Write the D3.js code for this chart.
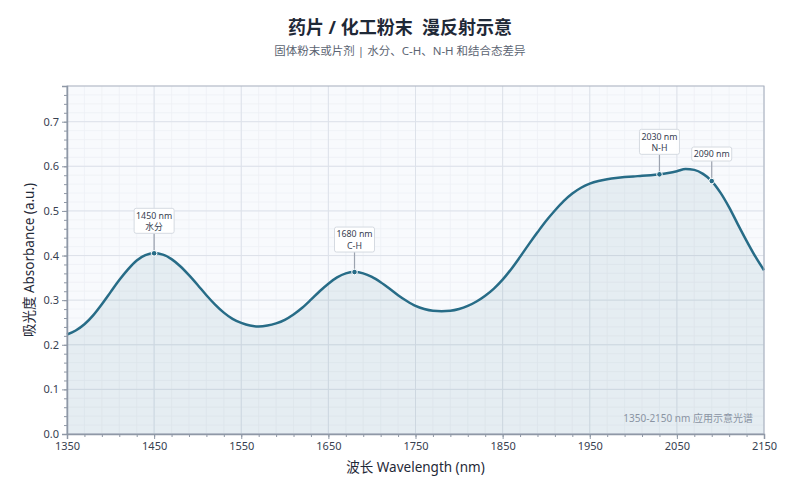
<!DOCTYPE html>
<html>
<head>
<meta charset="utf-8">
<script src="https://cdn.jsdelivr.net/npm/d3@7"></script>
<style>
  body { margin: 0; background: #fff; }
  text { font-family: "Noto Sans", "Noto Sans CJK SC", sans-serif; }
</style>
</head>
<body>
<div id="plot"></div>
<script>
// wavelength grid (nm), every 10 nm
let wavelength = d3.range(1350, 2151, 10);
// absorbance
let absorbance = [
  0.223, 0.232, 0.246, 0.266, 0.291, 0.318, 0.345, 0.369, 0.389, 0.401,
  0.405, 0.402, 0.392, 0.376, 0.356, 0.334, 0.311, 0.290, 0.272, 0.258,
  0.249, 0.243, 0.241, 0.243, 0.248, 0.256, 0.268, 0.283, 0.301, 0.320,
  0.337, 0.351, 0.360, 0.363, 0.360, 0.352, 0.340, 0.326, 0.311, 0.298,
  0.287, 0.280, 0.276, 0.275, 0.276, 0.280, 0.287, 0.297, 0.310, 0.326,
  0.346, 0.370, 0.397, 0.425, 0.452, 0.478, 0.501, 0.522, 0.539, 0.552,
  0.561, 0.567, 0.571, 0.574, 0.576, 0.577, 0.579, 0.580, 0.582, 0.585,
  0.589, 0.594, 0.592, 0.583, 0.567, 0.541, 0.508, 0.470, 0.433, 0.398,
  0.367
];
let peakNm = [1450, 1680, 2030, 2090];
let peakLabel = [['1450 nm', '水分'], ['1680 nm', 'C-H'], ['2030 nm', 'N-H'], ['2090 nm']];
let xTicks = [1350, 1450, 1550, 1650, 1750, 1850, 1950, 2050, 2150];
let yTicks = [0, 0.1, 0.2, 0.3, 0.4, 0.5, 0.6, 0.7];

let width = 800, height = 500;
let margin = { top: 86, bottom: 66, left: 67, right: 36 };
let lineColor = '#276c87';

let svg = d3.select('#plot')
  .append('svg')
  .attr('width', width)
  .attr('height', height);

let xScale = d3.scaleLinear()
  .domain([1350, 2150])
  .range([margin.left, width - margin.right]);

let yScale = d3.scaleLinear()
  .domain([0, 0.78])
  .range([height - margin.bottom, margin.top]);

let data = wavelength.map((w, i) => ({ w: w, a: absorbance[i] }));

// title
svg.append('text')
  .attr('x', width / 2).attr('y', 34)
  .attr('text-anchor', 'middle')
  .attr('font-size', 18).attr('font-weight', 'bold')
  .attr('fill', '#1f2937')
  .style('white-space', 'pre')
  .text('药片 / 化工粉末  漫反射示意');
svg.append('text')
  .attr('x', width / 2).attr('y', 55)
  .attr('text-anchor', 'middle')
  .attr('font-size', 11.5)
  .attr('fill', '#5b6472')
  .text('固体粉末或片剂 | 水分、C-H、N-H 和结合态差异');

// plot background
svg.append('rect')
  .attr('x', margin.left).attr('y', margin.top)
  .attr('width', xScale(2150) - margin.left)
  .attr('height', yScale(0) - margin.top)
  .attr('fill', '#f8fafd');

// minor grid
let grid = svg.append('g');
grid.selectAll('.vminor')
  .data(d3.range(1350, 2151, 20))
  .enter().append('line')
  .attr('x1', d => xScale(d)).attr('x2', d => xScale(d))
  .attr('y1', yScale(0)).attr('y2', yScale(0.78))
  .attr('stroke', '#edf0f5').attr('stroke-width', 0.8);
grid.selectAll('.hminor')
  .data(d3.range(0, 0.781, 0.02))
  .enter().append('line')
  .attr('x1', xScale(1350)).attr('x2', xScale(2150))
  .attr('y1', d => yScale(d)).attr('y2', d => yScale(d))
  .attr('stroke', '#edf0f5').attr('stroke-width', 0.8);
// major grid
grid.selectAll('.vmajor')
  .data(xTicks)
  .enter().append('line')
  .attr('x1', d => xScale(d)).attr('x2', d => xScale(d))
  .attr('y1', yScale(0)).attr('y2', yScale(0.78))
  .attr('stroke', '#dde2ea').attr('stroke-width', 1);
grid.selectAll('.hmajor')
  .data(yTicks)
  .enter().append('line')
  .attr('x1', xScale(1350)).attr('x2', xScale(2150))
  .attr('y1', d => yScale(d)).attr('y2', d => yScale(d))
  .attr('stroke', '#dde2ea').attr('stroke-width', 1);

// area + line
let area = d3.area()
  .x(d => xScale(d.w))
  .y0(yScale(0))
  .y1(d => yScale(d.a))
  .curve(d3.curveMonotoneX);
let line = d3.line()
  .x(d => xScale(d.w))
  .y(d => yScale(d.a))
  .curve(d3.curveMonotoneX);

svg.append('path')
  .datum(data)
  .attr('d', area)
  .attr('fill', lineColor)
  .attr('fill-opacity', 0.09);
svg.append('path')
  .datum(data)
  .attr('d', line)
  .attr('fill', 'none')
  .attr('stroke', lineColor)
  .attr('stroke-width', 2.5);

// frame
svg.append('rect')
  .attr('x', margin.left).attr('y', margin.top)
  .attr('width', xScale(2150) - margin.left)
  .attr('height', yScale(0) - margin.top)
  .attr('fill', 'none')
  .attr('stroke', '#aab2bf').attr('stroke-width', 1);

// axes
svg.append('g')
  .attr('transform', `translate(0,${yScale(0)})`)
  .call(d3.axisBottom(xScale).tickValues(xTicks).tickFormat(d3.format('d')).tickSize(5).tickPadding(3));
svg.append('g')
  .attr('transform', `translate(0,${yScale(0)})`)
  .call(d3.axisBottom(xScale).tickValues(d3.range(1350, 2151, 20)).tickFormat('').tickSize(3))
  .call(g => g.select('.domain').remove());
svg.append('g')
  .attr('transform', `translate(${margin.left},0)`)
  .call(d3.axisLeft(yScale).tickValues(yTicks).tickFormat(d3.format('.1f')).tickSize(5).tickPadding(3));
svg.append('g')
  .attr('transform', `translate(${margin.left},0)`)
  .call(d3.axisLeft(yScale).tickValues(d3.range(0, 0.781, 0.02)).tickFormat('').tickSize(3))
  .call(g => g.select('.domain').remove());

svg.selectAll('.domain').attr('stroke', '#8f98a6').attr('stroke-width', 1.5);
svg.selectAll('.tick line').attr('stroke', '#8f98a6');
svg.selectAll('.tick text')
  .attr('font-size', 11)
  .attr('fill', '#374151')
  .attr('font-family', '"Noto Sans", "Noto Sans CJK SC", sans-serif');

// axis titles
svg.append('text')
  .attr('x', (xScale(1350) + xScale(2150)) / 2).attr('y', 472)
  .attr('text-anchor', 'middle')
  .attr('font-size', 13.5).attr('fill', '#1f2937')
  .text('波长 Wavelength (nm)');
svg.append('text')
  .attr('transform', `translate(34,${(yScale(0) + yScale(0.78)) / 2}) rotate(-90)`)
  .attr('text-anchor', 'middle')
  .attr('font-size', 13.5).attr('fill', '#1f2937')
  .text('吸光度 Absorbance (a.u.)');

// corner note
svg.append('text')
  .attr('x', xScale(2150) - 11).attr('y', yScale(0) - 12)
  .attr('text-anchor', 'end')
  .attr('font-size', 10).attr('fill', '#8a94a3')
  .text('1350-2150 nm 应用示意光谱');

// peak annotations
let lookup = d3.scaleLinear().domain(wavelength).range(absorbance);
peakNm.forEach((nm, i) => {
  let px = xScale(nm), py = yScale(lookup(nm));
  let lines = peakLabel[i];
  let boxH = lines.length === 2 ? 25 : 14;
  let boxW = 40;
  let boxBottom = py - 20;
  let g = svg.append('g');
  g.append('line')
    .attr('x1', px).attr('x2', px)
    .attr('y1', boxBottom).attr('y2', py - 3)
    .attr('stroke', '#9ca3af').attr('stroke-width', 1.2);
  g.append('rect')
    .attr('x', px - boxW / 2).attr('y', boxBottom - boxH)
    .attr('width', boxW).attr('height', boxH)
    .attr('rx', 2)
    .attr('fill', '#fff').attr('fill-opacity', 0.92)
    .attr('stroke', '#d5dae1').attr('stroke-width', 1);
  lines.forEach((t, j) => {
    g.append('text')
      .attr('x', px)
      .attr('y', boxBottom - boxH + 10.2 + j * 11.7)
      .attr('text-anchor', 'middle')
      .attr('font-size', 8.8).attr('fill', '#374151')
      .text(t);
  });
  g.append('circle')
    .attr('cx', px).attr('cy', py).attr('r', 2.8)
    .attr('fill', lineColor)
    .attr('stroke', '#fff').attr('stroke-width', 1);
});
</script>
</body>
</html>
